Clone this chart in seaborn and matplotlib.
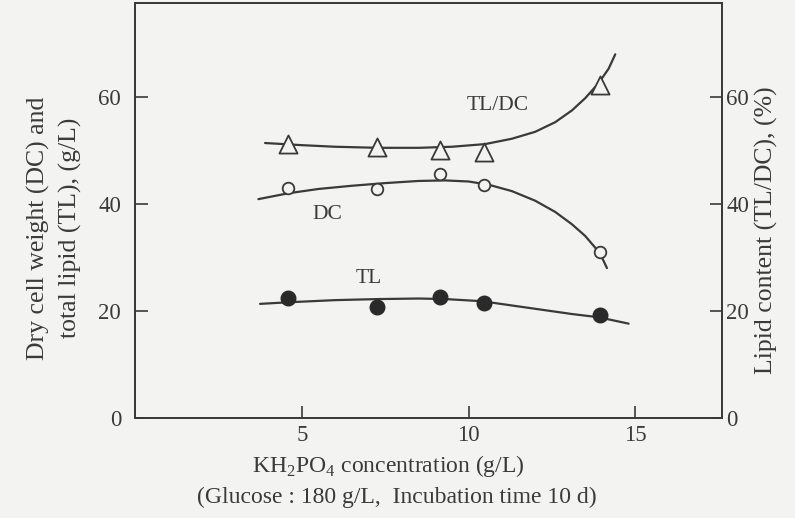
import matplotlib
matplotlib.use("Agg")
import matplotlib.pyplot as plt
import seaborn as sns
import pandas as pd

# KH2PO4 concentration (g/L) at which each culture was sampled
conc = [4.6, 7.25, 9.15, 10.45, 13.95]
# Lipid content TL/DC (%)
lipid_content = [51.2, 50.7, 50.1, 49.7, 62.2]
# Dry cell weight DC (g/L)
dry_cell = [43.0, 42.8, 45.6, 43.5, 31.0]
# Total lipid TL (g/L)
total_lipid = [22.4, 20.8, 22.6, 21.4, 19.3]

# Hand-fitted trend curves (x, y) for each series
tldc_curve_x = [3.9, 5.0, 6.0, 7.3, 8.5, 9.5, 10.5, 11.3, 12.0, 12.6, 13.1, 13.5, 13.9, 14.2, 14.4]
tldc_curve_y = [51.4, 51.0, 50.7, 50.5, 50.5, 50.7, 51.2, 52.2, 53.5, 55.3, 57.5, 59.8, 62.6, 65.3, 68.0]
dc_curve_x = [3.7, 4.6, 5.5, 6.5, 7.5, 8.5, 9.3, 10.0, 10.6, 11.3, 12.0, 12.6, 13.1, 13.5, 13.8, 14.0, 14.15]
dc_curve_y = [40.9, 42.0, 42.8, 43.4, 43.9, 44.3, 44.4, 44.2, 43.6, 42.4, 40.6, 38.5, 36.2, 34.0, 31.8, 30.0, 28.0]
tl_curve_x = [3.75, 4.6, 6.0, 7.3, 8.5, 9.3, 10.4, 11.3, 12.2, 13.1, 13.9, 14.8]
tl_curve_y = [21.3, 21.6, 22.0, 22.2, 22.3, 22.2, 21.8, 21.0, 20.2, 19.4, 18.8, 17.6]

x_ticks = [5, 10, 15]
y_ticks = [0, 20, 40, 60]

ink = "#3a3a3a"
paper = "#f3f3f1"

sns.set_theme(style="ticks")
plt.rcParams["font.family"] = ["Liberation Serif", "DejaVu Serif"]
plt.rcParams["mathtext.fontset"] = "custom"
plt.rcParams["mathtext.rm"] = "Liberation Serif"
plt.rcParams["text.color"] = ink
plt.rcParams["axes.labelcolor"] = ink
plt.rcParams["xtick.color"] = ink
plt.rcParams["ytick.color"] = ink
plt.rcParams["axes.edgecolor"] = ink

tick_fs = 16.5
ylabel_fs = 18.5
xlabel_fs = 17
note_fs = 17
mark_fs = 15.5

fig = plt.figure(figsize=(7.95, 5.18), dpi=100, facecolor=paper)
ax = fig.add_axes([135 / 795, 1 - 417.7 / 518, (722 - 135) / 795, (417.7 - 3) / 518])
ax.set_facecolor(paper)

curves = pd.DataFrame({
    "x": tldc_curve_x + dc_curve_x + tl_curve_x,
    "y": tldc_curve_y + dc_curve_y + tl_curve_y,
    "series": ["TL/DC"] * len(tldc_curve_x) + ["DC"] * len(dc_curve_x) + ["TL"] * len(tl_curve_x),
})
for name in ["TL/DC", "DC", "TL"]:
    sns.lineplot(data=curves[curves.series == name], x="x", y="y", ax=ax,
                 color=ink, lw=1.6, sort=False, estimator=None)

pts = pd.DataFrame({"x": conc, "tldc": lipid_content, "dc": dry_cell, "tl": total_lipid})
sns.scatterplot(data=pts, x="x", y="tldc", ax=ax, marker="^", s=170,
                facecolor=paper, edgecolor=ink, linewidth=1.3, zorder=5)
sns.scatterplot(data=pts, x="x", y="dc", ax=ax, marker="o", s=70,
                facecolor=paper, edgecolor=ink, linewidth=1.3, zorder=5)
sns.scatterplot(data=pts, x="x", y="tl", ax=ax, marker="o", s=110,
                color="#2a2a2a", edgecolor="#2a2a2a", linewidth=1.0, zorder=5)

ax.text(10.86, 58.4, "TL/DC", ha="center", va="center", fontsize=mark_fs)
ax.text(5.78, 38.1, "DC", ha="center", va="center", fontsize=mark_fs)
ax.text(7.0, 26.0, "TL", ha="center", va="center", fontsize=mark_fs)

ax.set_xlim(0, 17.6)
ax.set_ylim(0, 77.6)
ax.set_xticks(x_ticks)
ax.set_yticks(y_ticks)
ax.set_xlabel("")
ax.set_ylabel("")
ax.tick_params(axis="x", direction="in", length=9, width=1.2, pad=5, labelsize=tick_fs)
ax.tick_params(axis="y", direction="in", length=9, width=1.2, pad=10, labelsize=tick_fs)
for sp in ax.spines.values():
    sp.set_linewidth(1.3)
    sp.set_visible(True)

ax2 = ax.twinx()
ax2.set_ylim(ax.get_ylim())
ax2.set_yticks(y_ticks)
ax2.tick_params(axis="y", direction="in", length=9, width=1.2, pad=3, labelsize=tick_fs)
for sp in ax2.spines.values():
    sp.set_linewidth(1.3)

fig.text(388 / 795, 1 - 466 / 518, r"KH$_\mathrm{2}$PO$_\mathrm{4}$ concentration (g/L)",
         ha="center", va="center", fontsize=xlabel_fs)
fig.text(397 / 795, 1 - 497 / 518, "(Glucose : 180 g/L,  Incubation time 10 d)",
         ha="center", va="center", fontsize=note_fs)
fig.text(54 / 795, 1 - 228 / 518, "Dry cell weight (DC) and\ntotal lipid (TL), (g/L)",
         ha="center", va="center", rotation=90, fontsize=ylabel_fs, linespacing=1.5)
fig.text(766 / 795, 1 - 230 / 518, "Lipid content (TL/DC), (%)",
         ha="center", va="center", rotation=90, fontsize=ylabel_fs)

fig.savefig("out.png", dpi=100, facecolor=paper)
